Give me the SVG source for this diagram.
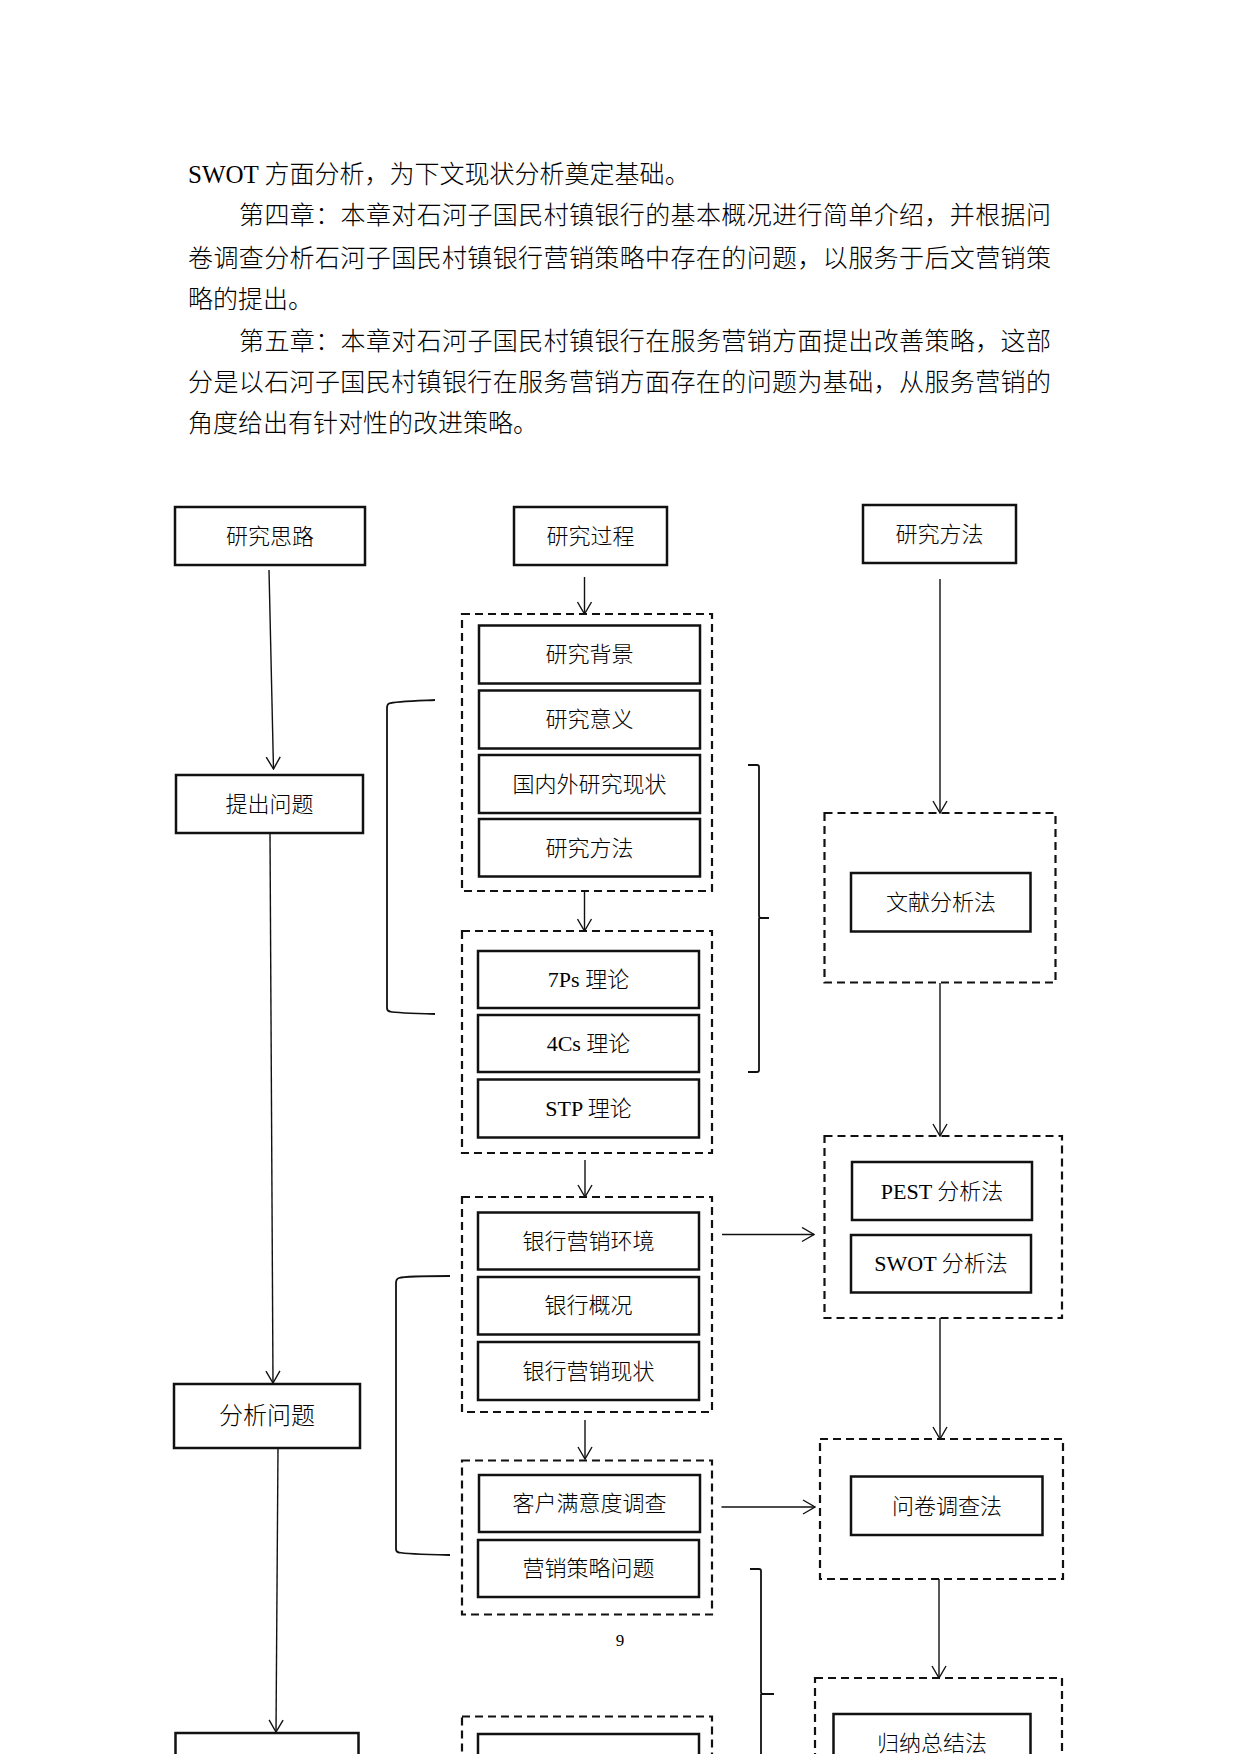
<svg xmlns="http://www.w3.org/2000/svg" width="1240" height="1754" viewBox="0 0 1240 1754">
<defs>
<style>
.bg{fill:#fff}
.p{font-family:"Liberation Serif","Noto Sans CJK SC",serif;font-size:25px;fill:#000;font-weight:300}
.t{font-family:"Liberation Serif","Noto Sans CJK SC",serif;font-size:22px;fill:#000;text-anchor:middle;dominant-baseline:central;font-weight:300}
.tb{font-size:24px}
.box{fill:#fff;stroke:#111;stroke-width:2.5}
.grp{fill:none;stroke:#111;stroke-width:2.2;stroke-dasharray:8 5}
.ln{fill:none;stroke:#111;stroke-width:1.4}
.br{fill:none;stroke:#111;stroke-width:1.8}
</style>
<marker id="arr" viewBox="0 0 14 16" refX="13" refY="8" markerWidth="14" markerHeight="16" orient="auto" markerUnits="userSpaceOnUse">
<path d="M1,1 L13,8 L1,15" fill="none" stroke="#111" stroke-width="1.4"/>
</marker>
</defs>
<rect class="bg" x="0" y="0" width="1240" height="1754"/>

<g id="paragraph">
<text class="p" x="188" y="183">SWOT 方面分析，为下文现状分析奠定基础。</text>
<text class="p" x="239" y="224" textLength="812" lengthAdjust="spacing">第四章：本章对石河子国民村镇银行的基本概况进行简单介绍，并根据问</text>
<text class="p" x="188" y="267" textLength="863" lengthAdjust="spacing">卷调查分析石河子国民村镇银行营销策略中存在的问题，以服务于后文营销策</text>
<text class="p" x="188" y="308">略的提出。</text>
<text class="p" x="239" y="350" textLength="812" lengthAdjust="spacing">第五章：本章对石河子国民村镇银行在服务营销方面提出改善策略，这部</text>
<text class="p" x="188" y="391" textLength="863" lengthAdjust="spacing">分是以石河子国民村镇银行在服务营销方面存在的问题为基础，从服务营销的</text>
<text class="p" x="188" y="432">角度给出有针对性的改进策略。</text>
</g>

<g id="connectors">
<line class="ln" x1="269" y1="570" x2="273.5" y2="769" marker-end="url(#arr)"/>
<line class="ln" x1="270" y1="833" x2="273" y2="1383" marker-end="url(#arr)"/>
<line class="ln" x1="278" y1="1448" x2="276" y2="1732" marker-end="url(#arr)"/>
<line class="ln" x1="584.5" y1="577" x2="584.5" y2="614" marker-end="url(#arr)"/>
<line class="ln" x1="584.5" y1="891" x2="584.5" y2="931" marker-end="url(#arr)"/>
<line class="ln" x1="585" y1="1160" x2="585" y2="1197" marker-end="url(#arr)"/>
<line class="ln" x1="585" y1="1420" x2="585" y2="1459" marker-end="url(#arr)"/>
<line class="ln" x1="940" y1="579" x2="940" y2="813" marker-end="url(#arr)"/>
<line class="ln" x1="940" y1="983" x2="940" y2="1136" marker-end="url(#arr)"/>
<line class="ln" x1="940" y1="1318" x2="940" y2="1439" marker-end="url(#arr)"/>
<line class="ln" x1="939" y1="1579" x2="939" y2="1678" marker-end="url(#arr)"/>
<line class="ln" x1="722" y1="1234.5" x2="814" y2="1234.5" marker-end="url(#arr)"/>
<line class="ln" x1="721.5" y1="1507" x2="815" y2="1507" marker-end="url(#arr)"/>
<path class="br" d="M435,700 C412,701 394,701.5 389,703.5 Q387,704.5 387,708 L387,1008 Q387,1011 390,1011.5 C396,1013 414,1013.5 435,1014"/>
<path class="br" d="M450,1276 C427,1276 404,1276.5 399,1278 Q396,1279 396,1283 L396,1549 Q396,1552 399,1552.5 C405,1554 428,1554.5 450,1555"/>
<path class="br" d="M748,765 L757,765 Q759,765 759,767 L759,916 Q759,918 761,918 L769,918 M759,918 L759,1070 Q759,1072 757,1072 L748,1072"/>
<path class="br" d="M750,1569 L759,1569 Q761,1569 761,1571 L761,1692 Q761,1694 763,1694 L774,1694 M761,1694 L761,1760"/>
</g>

<g id="h-silu"><rect class="box" x="175" y="507" width="190" height="58"/><text class="t" x="270" y="536">研究思路</text></g>
<g id="h-guocheng"><rect class="box" x="514" y="507" width="153" height="58"/><text class="t" x="590.5" y="536">研究过程</text></g>
<g id="h-fangfa"><rect class="box" x="863" y="505" width="153" height="58"/><text class="t" x="939.5" y="534">研究方法</text></g>

<g id="tichu"><rect class="box" x="176" y="775" width="187" height="58"/><text class="t" x="269.5" y="804">提出问题</text></g>
<g id="fenxi"><rect class="box" x="174" y="1384" width="186" height="64"/><text class="t tb" x="267" y="1416">分析问题</text></g>
<g id="left-bottom"><rect class="box" x="175.5" y="1733" width="183" height="40"/></g>

<g id="group1">
<rect class="grp" x="462" y="614" width="250" height="277"/>
<rect class="box" x="479" y="625.5" width="221" height="58"/><text class="t" x="589.5" y="654.5">研究背景</text>
<rect class="box" x="479" y="690.5" width="221" height="58"/><text class="t" x="589.5" y="719.5">研究意义</text>
<rect class="box" x="479" y="755" width="221" height="58"/><text class="t" x="589.5" y="784">国内外研究现状</text>
<rect class="box" x="479" y="819" width="221" height="57.5"/><text class="t" x="589.5" y="848">研究方法</text>
</g>

<g id="group2">
<rect class="grp" x="462" y="931" width="250" height="222"/>
<rect class="box" x="478" y="951" width="221" height="57"/><text class="t" x="588.5" y="979.5">7Ps 理论</text>
<rect class="box" x="478" y="1015" width="221" height="57"/><text class="t" x="588.5" y="1043.5">4Cs 理论</text>
<rect class="box" x="478" y="1079.5" width="221" height="58"/><text class="t" x="588.5" y="1108.5">STP 理论</text>
</g>

<g id="group3">
<rect class="grp" x="462" y="1197" width="250" height="215"/>
<rect class="box" x="478" y="1212.5" width="221" height="57"/><text class="t" x="588.5" y="1241">银行营销环境</text>
<rect class="box" x="478" y="1277" width="221" height="57.5"/><text class="t" x="588.5" y="1305.5">银行概况</text>
<rect class="box" x="478" y="1342" width="221" height="58"/><text class="t" x="588.5" y="1371">银行营销现状</text>
</g>

<g id="group4">
<rect class="grp" x="462" y="1460.5" width="250" height="154"/>
<rect class="box" x="479" y="1475" width="221" height="57"/><text class="t" x="589.5" y="1503.5">客户满意度调查</text>
<rect class="box" x="478" y="1540" width="221" height="57"/><text class="t" x="588.5" y="1568.5">营销策略问题</text>
</g>

<g id="group5">
<rect class="grp" x="462" y="1716.5" width="250" height="60"/>
<rect class="box" x="478" y="1734" width="221" height="40"/>
</g>

<g id="wenxian">
<rect class="grp" x="824.5" y="813" width="231" height="169.5"/>
<rect class="box" x="851" y="873" width="179.5" height="58.5"/><text class="t" x="941" y="902">文献分析法</text>
</g>

<g id="pest">
<rect class="grp" x="824.5" y="1136" width="237.5" height="182"/>
<rect class="box" x="852" y="1162" width="180" height="58"/><text class="t" x="942" y="1191">PEST 分析法</text>
<rect class="box" x="851" y="1235" width="180" height="57.5"/><text class="t" x="941" y="1263.5">SWOT 分析法</text>
</g>

<g id="wenjuan">
<rect class="grp" x="820" y="1439" width="243" height="140"/>
<rect class="box" x="851" y="1476.5" width="191.5" height="58.5"/><text class="t" x="947" y="1506">问卷调查法</text>
</g>

<g id="guina">
<rect class="grp" x="815" y="1678" width="247" height="100"/>
<rect class="box" x="833.5" y="1714" width="197" height="60"/><text class="t" x="932" y="1743">归纳总结法</text>
</g>

<text id="pagenum" x="620" y="1646" font-family="Liberation Serif, serif" font-size="17" text-anchor="middle" fill="#000">9</text>
</svg>
